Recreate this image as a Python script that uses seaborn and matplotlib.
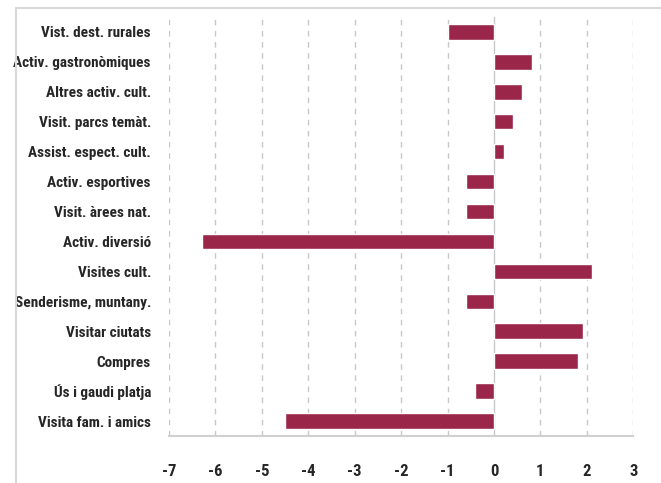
import matplotlib
matplotlib.use("Agg")
import matplotlib.pyplot as plt
import seaborn as sns
import pandas as pd
from matplotlib import font_manager
from matplotlib.lines import Line2D

# data
categories = [
    "Vist. dest. rurales", "Activ. gastronòmiques", "Altres activ. cult.",
    "Visit. parcs temàt.", "Assist. espect. cult.", "Activ. esportives",
    "Visit. àrees nat.", "Activ. diversió", "Visites cult.",
    "Senderisme, muntany.", "Visitar ciutats", "Compres",
    "Ús i gaudi platja", "Visita fam. i amics",
]
values = [-1.0, 0.82, 0.61, 0.41, 0.22, -0.6, -0.6, -6.3, 2.11,
          -0.6, 1.92, 1.82, -0.41, -4.5]
xticks = [-7, -6, -5, -4, -3, -2, -1, 0, 1, 2, 3]

df = pd.DataFrame({"cat": categories, "val": values})

sns.set_style("white")
names = {f.name for f in font_manager.fontManager.ttflist}
fam = [f for f in ["Roboto Condensed", "Liberation Sans Narrow", "Open Sans Condensed",
                   "DejaVu Sans Condensed", "Liberation Sans", "DejaVu Sans"] if f in names]
plt.rcParams["font.family"] = fam

fig = plt.figure(figsize=(6.61, 4.83), dpi=100)
ax = fig.add_axes([0.2557, 0.0973, 0.7023, 0.8677])

sns.barplot(data=df, x="val", y="cat", orient="h", color="#9a2749",
            width=0.52, saturation=1, ax=ax, zorder=3)

ax.set_xlim(-7, 3)
ax.set_xticks(xticks)
ax.set_xticklabels([str(t) for t in xticks])
ax.set_xlabel("")
ax.set_ylabel("")

for t in xticks:
    if t == 0:
        ax.axvline(t, color="#c8c8c8", lw=1.0, zorder=1)
    else:
        ax.axvline(t, color="#c8c8c8", lw=1.0, ls=(0, (4, 4)), zorder=1)

for s in ["top", "right", "left"]:
    ax.spines[s].set_visible(False)
ax.spines["bottom"].set_color("#d0d0d0")
ax.spines["bottom"].set_linewidth(1.5)

ax.tick_params(axis="x", length=11, width=1.2, color="#c8c8c8", pad=9,
               labelsize=12)
ax.tick_params(axis="y", length=0, pad=13, labelsize=11)
for lab in ax.get_xticklabels() + ax.get_yticklabels():
    lab.set_fontweight("bold")

# outer chart border (partly cropped in the reference)
fig.add_artist(Line2D([16 / 661, 16 / 661], [0, 1 - 8 / 483],
                      transform=fig.transFigure, color="#d9d9d9", lw=1.5))
fig.add_artist(Line2D([16 / 661, 1], [1 - 8 / 483, 1 - 8 / 483],
                      transform=fig.transFigure, color="#d9d9d9", lw=1.5))

fig.savefig("out.png", dpi=100)
